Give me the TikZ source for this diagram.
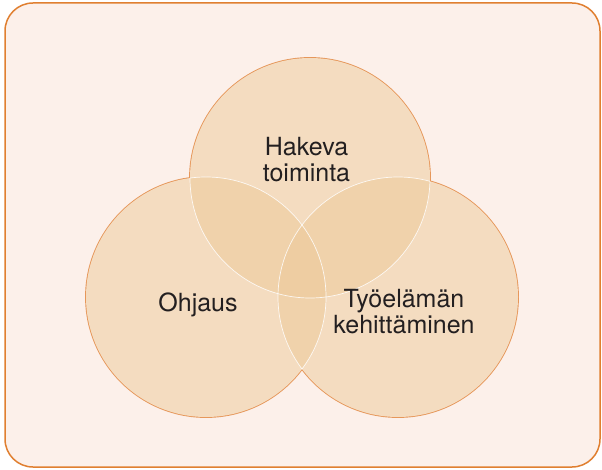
\documentclass[tikz,border=0pt]{standalone}
\usepackage{fontspec}
\setmainfont{TeX Gyre Heros}
\definecolor{framec}{HTML}{E07F30}
\definecolor{bgc}{HTML}{FCF0EA}
\definecolor{circc}{HTML}{E6975A}
\definecolor{fillc}{HTML}{F4DCC0}
\definecolor{ovc}{HTML}{F0D2AB}
\definecolor{tric}{HTML}{EECDA2}
\definecolor{txtc}{HTML}{231F20}
\begin{document}
\begin{tikzpicture}[x=1pt,y=-1pt,
  lbl/.style={font=\fontsize{25}{26}\selectfont, text=txtc, anchor=base, inner sep=0pt},
  outerline/.style={draw=circc, line width=1.8pt},
  innerline/.style={draw=white, line width=0.7pt, opacity=0.85}]
\useasboundingbox (0,0) rectangle (602,470);
\draw[draw=framec, line width=1.5pt, fill=bgc, rounded corners=28pt] (5,3) rectangle (600,467);
\coordinate (T) at (310,178);
\coordinate (L) at (206,297);
\coordinate (R) at (398,297);
% outer strokes
\foreach \c in {T,L,R} \path[outerline] (\c) circle[radius=120pt];
% union fill
\fill[fillc] (T) circle[radius=120pt] (L) circle[radius=120pt] (R) circle[radius=120pt];
% pairwise overlaps
\begin{scope}
  \clip (T) circle[radius=120pt];
  \fill[ovc] (L) circle[radius=120pt] (R) circle[radius=120pt];
\end{scope}
\begin{scope}
  \clip (L) circle[radius=120pt];
  \fill[ovc] (R) circle[radius=120pt];
\end{scope}
% triple overlap
\begin{scope}
  \clip (T) circle[radius=120pt];
  \clip (L) circle[radius=120pt];
  \fill[tric] (R) circle[radius=120pt];
\end{scope}
% inner white arcs
\begin{scope}
  \clip (L) circle[radius=120pt] (R) circle[radius=120pt];
  \path[innerline] (T) circle[radius=120pt];
\end{scope}
\begin{scope}
  \clip (T) circle[radius=120pt] (R) circle[radius=120pt];
  \path[innerline] (L) circle[radius=120pt];
\end{scope}
\begin{scope}
  \clip (T) circle[radius=120pt] (L) circle[radius=120pt];
  \path[innerline] (R) circle[radius=120pt];
\end{scope}
% labels
\node[lbl] (h1) at (306.5,156) {Hakeva};
\node[lbl] (h2) at (306.5,182) {toiminta};
\node[lbl] (o) at (198,311) {Ohjaus};
\node[lbl] (t1) at (404,307) {Työelämän};
\node[lbl] (t2) at (404,333) {kehittäminen};
\end{tikzpicture}
\end{document}
